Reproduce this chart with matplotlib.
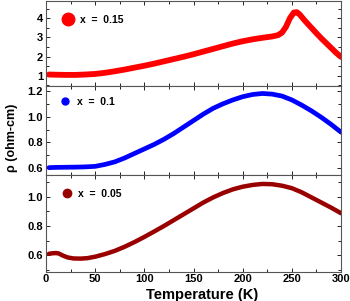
import matplotlib
matplotlib.use("Agg")
import matplotlib.pyplot as plt
from matplotlib.ticker import MultipleLocator
from matplotlib.lines import Line2D

plt.rcParams['font.family'] = ['Liberation Sans', 'DejaVu Sans']
plt.rcParams['font.weight'] = 'bold'

# x = 0.15
T1 = [3, 10, 20, 30, 40, 50, 60, 70, 80, 90, 100, 110, 120, 130, 140, 150, 160, 170,
      180, 190, 200, 210, 220, 230, 236, 240, 244, 248, 252, 255, 258, 262, 266, 270,
      275, 280, 285, 290, 295, 300]
R1 = [1.06, 1.05, 1.04, 1.04, 1.06, 1.09, 1.15, 1.23, 1.32, 1.42, 1.52, 1.63, 1.75,
      1.87, 1.99, 2.12, 2.26, 2.4, 2.54, 2.68, 2.8, 2.9, 2.98, 3.05, 3.12, 3.25, 3.55,
      4.0, 4.3, 4.32, 4.2, 3.95, 3.72, 3.5, 3.22, 2.95, 2.7, 2.45, 2.2, 1.98]

# x = 0.1
T2 = [3, 10, 20, 30, 40, 50, 60, 70, 80, 90, 100, 110, 120, 130, 140, 150, 160, 170,
      180, 190, 200, 210, 220, 230, 240, 250, 260, 270, 280, 290, 300]
R2 = [0.605, 0.607, 0.608, 0.609, 0.611, 0.615, 0.63, 0.65, 0.68, 0.715, 0.75, 0.785,
      0.825, 0.87, 0.92, 0.97, 1.02, 1.065, 1.1, 1.13, 1.155, 1.172, 1.18, 1.175, 1.16,
      1.13, 1.09, 1.045, 0.995, 0.94, 0.88]

# x = 0.05
T3 = [3, 6, 10, 13, 17, 22, 28, 35, 42, 50, 60, 70, 80, 90, 100, 110, 120, 130, 140,
      150, 160, 170, 180, 190, 200, 210, 220, 230, 240, 250, 260, 270, 280, 290, 300]
R3 = [0.61, 0.613, 0.615, 0.612, 0.598, 0.585, 0.578, 0.577, 0.58, 0.59, 0.608, 0.63,
      0.658, 0.69, 0.725, 0.762, 0.8, 0.84, 0.88, 0.92, 0.96, 0.995, 1.025, 1.05, 1.068,
      1.08, 1.087, 1.085, 1.075, 1.058, 1.03, 0.995, 0.96, 0.925, 0.887]

labels = ['x  =  0.15', 'x  =  0.1', 'x  =  0.05']
colors = ['#ff0000', '#0000ff', '#990000']

fig = plt.figure(figsize=(3.5, 3.01), dpi=100)
left, right = 46 / 350, 341 / 350
H = 301
bounds = [(0.5, 86), (86, 175), (175, 271.5)]
ylims = [(0.46, 4.93), (0.548, 1.238), (0.489, 1.148)]
majors = [1, 0.2, 0.2]
minors = [0.5, 0.1, 0.1]
lws = [4.2, 3.4, 3.2]
msz = [9, 5, 6]
anchors = [(0.03, 0.93), (0.02, 0.97), (0.025, 0.94)]
series = [(T1, R1), (T2, R2), (T3, R3)]

axes = []
for i in range(3):
    top, bot = bounds[i]
    ax = fig.add_axes([left, 1 - bot / H, right - left, (bot - top) / H])
    T, R = series[i]
    ax.plot(T, R, color=colors[i], lw=lws[i], solid_capstyle='round')
    ax.set_xlim(0, 300)
    ax.set_ylim(*ylims[i])
    ax.xaxis.set_major_locator(MultipleLocator(50))
    ax.xaxis.set_minor_locator(MultipleLocator(25))
    ax.yaxis.set_major_locator(MultipleLocator(majors[i]))
    ax.yaxis.set_minor_locator(MultipleLocator(minors[i]))
    ax.tick_params(which='both', direction='in', top=True, right=True,
                   labelsize=8, width=0.6, pad=2)
    ax.tick_params(which='major', length=3)
    ax.tick_params(which='minor', length=2)
    for s in ax.spines.values():
        s.set_linewidth(0.8)
        s.set_color('#555555')
    if i < 2:
        ax.tick_params(labelbottom=False)
    h = Line2D([], [], color=colors[i], marker='o', ls='none', markersize=msz[i])
    ax.legend([h], [labels[i]], loc='upper left', frameon=False,
              prop={'size': 7.5, 'weight': 'bold'}, handlelength=1.0,
              handletextpad=0.6, borderaxespad=0.4,
              bbox_to_anchor=anchors[i])
    axes.append(ax)

axes[2].set_xlabel('Temperature (K)', fontsize=10.5, fontweight='bold', labelpad=1)
axes[2].xaxis.set_label_coords(0.53, -0.17)
fig.text(0.035, 1 - 138 / H, 'ρ (ohm-cm)', rotation=90, fontsize=9,
         fontweight='bold', ha='center', va='center')

fig.savefig('out.png', dpi=100)
